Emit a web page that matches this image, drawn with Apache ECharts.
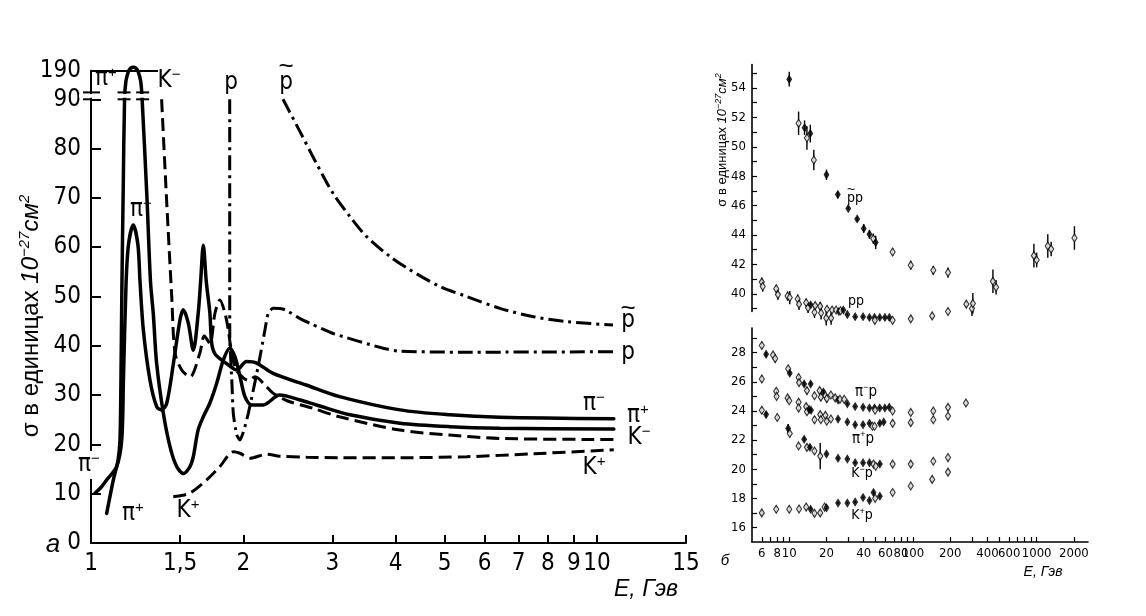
<!DOCTYPE html>
<html><head><meta charset="utf-8">
<script src="https://cdn.jsdelivr.net/npm/echarts@6/dist/echarts.min.js"></script>
<style>html,body{margin:0;padding:0;background:#fff}#c{width:1146px;height:616px}</style>
</head><body><div id="c"></div>
<script>
// ---------- Panel a: cross sections vs E (GeV), values in 10^-27 cm^2 ----------
const piPlus = [[1.074,6.0],[1.107,12.8],[1.131,16.8],[1.141,20.9],[1.146,33],[1.151,52],[1.158,72],[1.165,90],[1.172,140],[1.185,185],[1.198,202],[1.212,206],[1.226,202],[1.24,185],[1.254,140],[1.262,90],[1.29,70],[1.311,53],[1.328,46.4],[1.348,36.5],[1.39,26.3],[1.433,19.5],[1.477,15.5],[1.523,14.1],[1.569,15.5],[1.593,17.5],[1.628,22.9],[1.667,25.6],[1.718,28.4],[1.772,32.4],[1.826,37.1],[1.88,39.5],[1.925,37.8],[1.971,33.7],[2.015,29.7],[2.078,28],[2.19,28],[2.36,30],[2.59,29],[2.79,28],[3.25,26],[4.08,24.3],[5.12,23.6],[6.43,23.3],[10.8,23.1]];
const piMinus = [[1.018,10.1],[1.045,11.2],[1.074,12.8],[1.124,15.5],[1.15,20.9],[1.159,33],[1.173,52.7],[1.186,60.5],[1.212,64.5],[1.238,60.5],[1.25,53],[1.269,43.2],[1.308,33],[1.349,27.6],[1.379,27],[1.411,28.3],[1.455,36.4],[1.499,45.2],[1.522,47.3],[1.557,44.6],[1.593,39.1],[1.629,46.6],[1.647,53],[1.667,60.4],[1.69,53],[1.718,46.6],[1.732,40.5],[1.76,38.3],[1.854,36.4],[1.941,35.1],[2.03,36.8],[2.125,36.5],[2.29,34.4],[2.67,32],[3.1,29.7],[4.08,27],[5.12,26],[6.43,25.5],[10.8,25.2]];
const kMinus = [[1.379,90],[1.41,70],[1.444,50],[1.466,38.5],[1.511,35.1],[1.569,33.7],[1.641,38.5],[1.675,42],[1.718,40.5],[1.758,46.6],[1.798,49.3],[1.84,46.6],[1.868,43.2],[1.9,38],[1.94,35],[2.0,33.5],[2.046,33],[2.11,33.7],[2.21,32],[2.29,30.4],[2.45,28.8],[2.73,27.4],[3.1,25.6],[4.08,22.9],[5.12,21.9],[6.43,21.2],[10.8,21.0]];
const kPlus = [[1.454,9.4],[1.52,9.7],[1.569,10.1],[1.693,12.8],[1.798,15.5],[1.912,18.5],[1.97,18.2],[2.063,17.2],[2.225,18.0],[2.36,17.6],[2.67,17.4],[3.1,17.3],[4.08,17.3],[5.53,17.5],[7.5,18.1],[10.8,18.9]];
const proton = [[1.88,90],[1.88,55.4],[1.881,41.8],[1.9,32],[1.911,26.3],[1.94,22],[1.97,20.9],[2.0,22.5],[2.046,26.3],[2.14,35.8],[2.207,43.2],[2.24,46.6],[2.29,47.6],[2.42,47.3],[2.59,45.5],[2.73,44.4],[3.01,42.5],[3.78,39.5],[4.08,38.9],[5.5,38.7],[10.8,38.8]];
const antiproton = [[2.396,90],[2.59,83.4],[2.79,77.0],[3.01,70.9],[3.25,66.2],[3.51,62.1],[3.9,58.1],[4.27,55.4],[4.9,52],[5.53,50],[6.43,47.6],[7.5,45.9],[8.74,44.9],[10.76,44.2]];
const xTicksLeft = [1,1.5,2,3,4,5,6,7,8,9,10,15];
const yTicksLeft = [0,10,20,30,40,50,60,70,80,90,190];

// ---------- Panel б: [E, sigma, error, filled(1)/open(0)] ----------
const pbarP = [[10,54.6,0.5,1],[11.9,51.6,0.8,0],[13.3,51.3,0.5,1],[13.9,50.6,0.8,0],[14.8,50.9,0.6,1],[15.8,49.1,0.7,0],[20,48.1,0.35,1],[24.7,46.75,0.25,1],[30,45.8,0.1,1],[35.4,45.1,0.15,1],[40,44.45,0.3,1],[44.5,44.05,0.3,1],[47.8,43.75,0.35,0],[50,43.5,0.45,1],[68.5,42.85,0.25,0],[96,41.95,0.3,0],[146,41.6,0.3,0],[192,41.45,0.35,0],[443,40.85,0.8,0],[470,40.45,0.5,0],[950,42.6,0.8,0],[1000,42.3,0.5,0],[1230,43.25,0.8,0],[1310,43.05,0.5,0],[2020,43.8,0.8,0]];
const ppData = [[6.0,40.8,0.3,0],[6.1,40.5,0.35,0],[7.85,40.35,0.25,0],[8.1,39.95,0.35,0],[9.7,39.85,0.3,0],[10.1,39.75,0.45,0],[11.7,39.65,0.3,0],[12.0,39.3,0.4,0],[13.7,39.4,0.25,0],[14.2,39.05,0.35,0],[14.9,39.25,0.15,1],[16.0,38.75,0.4,0],[16.2,39.2,0.2,0],[17.8,39.15,0.3,0],[18.1,38.7,0.45,0],[19.9,38.35,0.5,0],[20.2,38.95,0.2,0],[21.8,38.35,0.45,0],[22.2,38.9,0.2,0],[23.9,38.9,0.1,0],[25.2,38.8,0.1,1],[26,38.85,0.1,0],[27.4,38.9,0.1,1],[29.5,38.6,0.1,1],[34.1,38.45,0.1,1],[39.5,38.45,0.1,1],[44.5,38.4,0.1,1],[48.9,38.4,0.1,1],[49.2,38.2,0.15,0],[53.9,38.4,0.1,1],[59.3,38.4,0.1,1],[64.4,38.4,0.1,1],[68.5,38.2,0.15,0],[96,38.3,0.2,0],[143,38.5,0.2,0],[192,38.8,0.2,0],[270,39.3,0.2,0],[300,39.0,0.5,0],[305,39.35,0.7,0]];
const piMinusP = [[6.0,28.5,0.25,0],[6.5,27.9,0.15,1],[7.4,27.85,0.2,0],[7.7,27.6,0.25,0],[9.8,26.9,0.2,0],[10.1,26.6,0.15,1],[11.9,26.3,0.25,0],[12.0,25.95,0.2,0],[13.2,25.85,0.15,1],[13.9,25.4,0.25,0],[14.9,25.85,0.15,1],[16.0,25.05,0.2,0],[17.6,25.4,0.2,0],[18.0,24.95,0.25,0],[18.9,25.3,0.15,1],[19.6,25.05,0.2,0],[20.1,24.85,0.25,0],[21.7,25.1,0.15,0],[23.5,24.9,0.15,0],[24.8,24.75,0.1,1],[25.7,24.8,0.15,0],[27.8,24.8,0.15,0],[29.5,24.5,0.1,1],[34.1,24.3,0.08,1],[39.5,24.25,0.08,1],[44.5,24.2,0.08,1],[48.9,24.2,0.1,1],[49.4,24.05,0.1,0],[53.9,24.2,0.08,1],[59.3,24.2,0.08,1],[64.4,24.25,0.08,1],[68.5,24.0,0.15,0],[96,23.9,0.2,0],[146,24.0,0.2,0],[192,24.25,0.2,0],[268,24.55,0.2,0]];
const piPlusP = [[6.0,26.2,0.25,0],[6.0,24.05,0.25,0],[6.5,23.75,0.2,1],[7.85,25.35,0.2,0],[7.9,25.0,0.2,0],[8.0,23.55,0.2,0],[9.7,24.9,0.2,0],[10.0,24.7,0.15,0],[11.9,24.6,0.25,0],[11.9,24.2,0.2,0],[13.7,24.3,0.2,0],[13.9,23.95,0.2,0],[14.5,24.1,0.1,1],[15.0,24.05,0.1,1],[16.0,23.4,0.25,0],[17.8,23.75,0.2,0],[18.0,23.4,0.2,0],[19.6,23.7,0.2,0],[20.1,23.3,0.2,0],[21.7,23.45,0.15,0],[24.8,23.45,0.1,1],[29.5,23.25,0.08,1],[34.1,23.05,0.08,1],[39.5,23.05,0.08,1],[44.5,23.15,0.08,1],[47,22.95,0.1,0],[49,22.95,0.1,0],[54,23.15,0.1,1],[58,23.25,0.1,1],[68.5,23.15,0.15,0],[96,23.2,0.2,0],[146,23.4,0.2,0],[192,23.65,0.2,0]];
const kMinusP = [[9.8,22.8,0.3,1],[10.1,22.45,0.2,0],[11.9,21.6,0.2,0],[13.2,22.05,0.15,1],[13.9,21.5,0.2,0],[14.7,21.5,0.15,1],[16.0,21.25,0.2,0],[17.8,20.9,0.9,0],[20.0,21.05,0.1,1],[24.8,20.75,0.1,1],[29.5,20.7,0.08,1],[34.1,20.45,0.08,1],[39.5,20.45,0.08,1],[44.5,20.45,0.08,1],[48,20.35,0.1,0],[50,20.2,0.1,0],[54,20.35,0.1,1],[68.5,20.35,0.15,0],[96,20.35,0.2,0],[146,20.55,0.2,0],[192,20.8,0.2,0]];
const kPlusP = [[6.0,17.0,0.2,0],[7.85,17.25,0.2,0],[10.0,17.25,0.2,0],[12.0,17.27,0.2,0],[13.7,17.4,0.2,0],[14.9,17.25,0.15,1],[16.0,16.97,0.2,0],[17.8,17.0,0.2,0],[19.3,17.4,0.2,0],[20.0,17.35,0.1,1],[24.8,17.68,0.08,1],[29.5,17.68,0.08,1],[34.1,17.75,0.08,1],[39.5,18.05,0.08,1],[44.5,17.85,0.1,1],[48,18.4,0.15,1],[49.5,18.0,0.15,0],[54,18.15,0.1,1],[68.5,18.4,0.15,0],[96,18.85,0.15,0],[143,19.3,0.2,0],[192,19.8,0.2,0]];
const xLabelsRight = [6,8,10,20,40,60,80,100,200,400,600,1000,2000];
const xTicksRight = [6,7,8,9,10,20,30,40,50,60,70,80,90,100,200,300,400,500,600,700,800,900,1000,2000];
const yLabelsUpper = [40,42,44,46,48,50,52,54];
const yTicksUpper = [39,40,41,42,43,44,45,46,47,48,49,50,51,52,53,54,55];
const yLabelsLower = [16,18,20,22,24,26,28];
const yTicksLower = [16,17,18,19,20,21,22,23,24,25,26,27,28,29];

// ---------- helpers ----------
const F = "'Liberation Sans Narrow','DejaVu Sans Condensed',sans-serif";
const FR = "'Liberation Sans','DejaVu Sans',sans-serif";
const lx = v => Math.log10(v);
const disp = v => v <= 90 ? v : 91.4 + (v - 90) * 0.044;
const fmtE = v => { const e = Math.round(Math.pow(10, v) * 100) / 100; return String(e).replace('.', ','); };

const solid = {color:'#000', width:3.5, type:'solid', cap:'round'};
const dashed = {color:'#000', width:3, type:[13,6]};
const dashDot = {color:'#000', width:3, type:[15,5,3,5]};

function curve(data, style, smooth, extra) {
  return Object.assign({type:'line', xAxisIndex:0, yAxisIndex:0,
    data: data.map(d => [lx(d[0]), disp(d[1])]), showSymbol:false, symbol:'none',
    smooth: smooth, clip:false, lineStyle: style, silent:true, animation:false}, extra || {});
}
function points(arr, xi, yi) {
  return [{type:'custom', xAxisIndex:xi, yAxisIndex:yi, clip:false, silent:true, animation:false, z:2,
      data: arr.map(d => [lx(d[0]), d[1]-d[2], d[1]+d[2]]), encode:{x:0, y:[1,2]},
      renderItem: (p, api) => { const a = api.coord([api.value(0), api.value(1)]); const b = api.coord([api.value(0), api.value(2)]);
        return {type:'line', shape:{x1:a[0], y1:a[1], x2:b[0], y2:b[1]}, style:{stroke:'#000', lineWidth:1.4}}; }},
    {type:'scatter', xAxisIndex:xi, yAxisIndex:yi, clip:false, silent:true, animation:false, z:3,
      symbol:'diamond', symbolSize:[5,8],
      data: arr.map(d => ({value:[lx(d[0]), d[1]], itemStyle: d[3] ? {color:'#000', borderColor:'#000', borderWidth:0.8} : {color:'#fff', borderColor:'#000', borderWidth:1.2}}))}];
}
function lbl(x, y, text, size, extra) {
  return Object.assign({type:'text', x:x, y:y, z:50, silent:true, style:{text:text, align:'center', verticalAlign:'middle', fill:'#000',
    rich:{b:{fontSize:size, fontFamily:F, fill:'#000', lineHeight:size*1.15}, s:{fontSize:Math.round(size*0.62), fontFamily:FR, fill:'#000', verticalAlign:'top', lineHeight:size*1.15}}}}, extra || {});
}
function txt(x, y, text, font) {
  return {type:'text', x:x, y:y, z:50, silent:true, style:{text:text, align:'center', verticalAlign:'middle', fill:'#000', font:font}};
}

const chart = echarts.init(document.getElementById('c'));

const series = [
  curve(piPlus, solid, 0.3, {markLine:{silent:true, symbol:'none', animation:false, label:{show:false},
    lineStyle:{color:'#000', width:2, type:'solid'},
    data:[[{coord:[lx(1), disp(190)]},{coord:[lx(1.357), disp(190)]}]]}}),
  curve(piMinus, solid, 0.3),
  curve(kMinus, dashed, 0.3),
  curve(kPlus, dashed, 0.3),
  curve(proton, dashDot, 0.2),
  curve(antiproton, dashDot, 0.3),
  ...points(pbarP, 1, 1), ...points(ppData, 1, 1),
  ...points(piMinusP, 2, 2), ...points(piPlusP, 2, 2), ...points(kMinusP, 2, 2), ...points(kPlusP, 2, 2)
];

const axisBlack = {lineStyle:{color:'#000', width:2}};
const option = {
  animation:false, backgroundColor:'#fff',
  grid:[
    {left:91, top:70.7, width:595, height:472.3},
    {left:752, top:64.5, width:336, height:247},
    {left:752, top:328, width:336, height:214}
  ],
  xAxis:[
    {type:'value', gridIndex:0, min:0, max:lx(15), axisLine:axisBlack, splitLine:{show:false},
      axisTick:{inside:true, length:8, lineStyle:{color:'#000', width:2}, customValues:xTicksLeft.map(lx)},
      axisLabel:{customValues:xTicksLeft.map(lx), formatter:fmtE, fontSize:24, fontFamily:F, color:'#000', margin:9}},
    {type:'value', gridIndex:1, min:lx(5), max:lx(2600), show:false},
    {type:'value', gridIndex:2, min:lx(5), max:lx(2600), axisLine:{lineStyle:{color:'#000', width:1.6}}, splitLine:{show:false},
      axisTick:{inside:true, length:5, lineStyle:{color:'#000', width:1.2}, customValues:xTicksRight.map(lx)},
      axisLabel:{customValues:xLabelsRight.map(lx), formatter:v => String(Math.round(Math.pow(10, v))), fontSize:13, fontFamily:F, color:'#000', margin:5}}
  ],
  yAxis:[
    {type:'value', gridIndex:0, min:0, max:disp(190), axisLine:{show:true, lineStyle:{color:'#000', width:2}}, splitLine:{show:false},
      axisTick:{show:true, inside:true, length:10, lineStyle:{color:'#000', width:2}, customValues:yTicksLeft.slice(0, 10).map(disp)},
      axisLabel:{customValues:yTicksLeft.map(disp), formatter:v => v > 91 ? '190' : String(Math.round(v)), fontSize:24, fontFamily:F, color:'#000', margin:10}},
    {type:'value', gridIndex:1, min:38.8, max:55.6, axisLine:{show:true, lineStyle:{color:'#000', width:1.6}}, splitLine:{show:false},
      axisTick:{show:true, inside:true, length:5, lineStyle:{color:'#000', width:1.2}, customValues:yTicksUpper},
      axisLabel:{customValues:yLabelsUpper, fontSize:13, fontFamily:F, color:'#000', margin:6}},
    {type:'value', gridIndex:2, min:15, max:29.7, axisLine:{show:true, lineStyle:{color:'#000', width:1.6}}, splitLine:{show:false},
      axisTick:{show:true, inside:true, length:5, lineStyle:{color:'#000', width:1.2}, customValues:yTicksLower},
      axisLabel:{customValues:yLabelsLower, fontSize:13, fontFamily:F, color:'#000', margin:6}}
  ],
  series: series
};
chart.setOption(option);

// ----- decorations placed through the axis scales -----
const P = (e, v) => chart.convertToPixel({gridIndex:0}, [lx(e), v]);
const a90 = P(1, 90), a914 = P(1, 91.4);
const fl = P(1.165, 90), fr = P(1.262, 90);
const seg = (x1, x2, y) => ({type:'line', z:60, silent:true, shape:{x1:x1, y1:y, x2:x2, y2:y}, style:{stroke:'#000', lineWidth:2}});
const sigTitle = '{n|σ в единицах }{i|10}{is|−27}{i|см}{is|2}';
const graphics = [
  {type:'rect', z:55, silent:true, shape:{x:a90[0]-12, y:a914[1]+1.5, width:76, height:a90[1]-a914[1]-3}, style:{fill:'#fff'}},
  seg(a90[0]-8, a90[0]+9, a914[1]), seg(a90[0]-8, a90[0], a90[1]),
  seg(fl[0]-7, fl[0]+6, a914[1]), seg(fl[0]-7, fl[0]+6, a90[1]),
  seg(fr[0]-6, fr[0]+7, a914[1]), seg(fr[0]-6, fr[0]+7, a90[1]),
  // panel a curve labels
  {type:'text', x:89, y:465, z:50, silent:true, style:{text:'{b|π}{s|−}', align:'center', verticalAlign:'middle', backgroundColor:'#fff', padding:[0,1],
    rich:{b:{fontSize:24, fontFamily:F, fill:'#000', lineHeight:28}, s:{fontSize:15, fontFamily:FR, fill:'#000', verticalAlign:'top', lineHeight:28}}}},
  lbl(133, 514, '{b|π}{s|+}', 24),
  lbl(188, 511, '{b|K}{s|+}', 24),
  lbl(141, 210, '{b|π}{s|−}', 24),
  lbl(106, 79, '{b|π}{s|+}', 24),
  lbl(169, 81, '{b|K}{s|−}', 24),
  lbl(231, 83, '{b|p}', 24),
  lbl(286, 83, '{b|p}', 24), txt(286, 67, '~', '26px ' + FR),
  lbl(628, 321, '{b|p}', 24), txt(628, 309, '~', '26px ' + FR),
  lbl(628, 353, '{b|p}', 24),
  lbl(594, 404, '{b|π}{s|−}', 24),
  lbl(638, 416, '{b|π}{s|+}', 24),
  lbl(639, 438, '{b|K}{s|−}', 24),
  lbl(594, 468, '{b|K}{s|+}', 24),
  txt(53, 545, 'а', 'italic 26px ' + FR),
  txt(646, 590, 'E, Гэв', 'italic 23px ' + FR),
  {type:'text', x:31, y:316, rotation:Math.PI/2, z:50, silent:true, style:{text:sigTitle, align:'center', verticalAlign:'middle', fill:'#000',
    rich:{n:{fontSize:24, fontFamily:FR, fill:'#000', lineHeight:27}, i:{fontSize:24, fontFamily:FR, fontStyle:'italic', fill:'#000', lineHeight:27},
      is:{fontSize:15, fontFamily:FR, fontStyle:'italic', fill:'#000', verticalAlign:'top', lineHeight:27}}}},
  // panel б labels
  lbl(855, 198, '{b|pp}', 14), txt(851, 190, '~', '14px ' + FR),
  lbl(856, 301, '{b|pp}', 14),
  lbl(866, 392, '{b|π}{s|−}{b|p}', 15),
  lbl(863, 439, '{b|π}{s|+}{b|p}', 15),
  lbl(862, 473, '{b|K}{s|−}{b|p}', 14),
  lbl(862, 515, '{b|K}{s|+}{b|p}', 14),
  txt(725, 561, 'б', 'italic 15px ' + FR),
  txt(1043, 572, 'E, Гэв', 'italic 14px ' + FR),
  {type:'text', x:722, y:140, rotation:Math.PI/2, z:50, silent:true, style:{text:sigTitle, align:'center', verticalAlign:'middle', fill:'#000',
    rich:{n:{fontSize:13, fontFamily:FR, fill:'#000', lineHeight:16}, i:{fontSize:13, fontFamily:FR, fontStyle:'italic', fill:'#000', lineHeight:16},
      is:{fontSize:9, fontFamily:FR, fontStyle:'italic', fill:'#000', verticalAlign:'top', lineHeight:16}}}}
];
chart.setOption({graphic: graphics});
</script>
</body></html>
